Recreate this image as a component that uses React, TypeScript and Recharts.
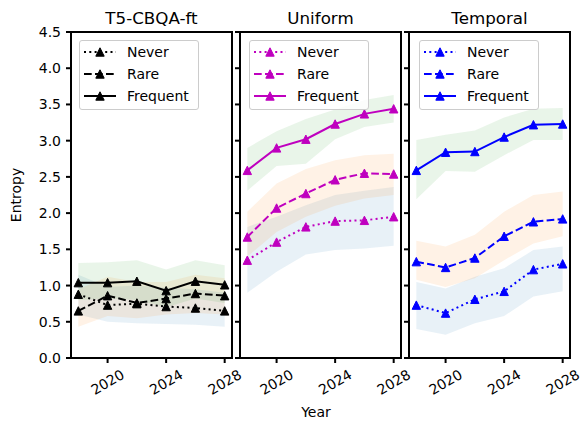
import React from 'react';
import { ComposedChart, Line, Area, XAxis, YAxis, ReferenceArea } from 'recharts';

// ---------- data ----------
const years = [2018, 2020, 2022, 2024, 2026, 2028];
const xTicks = [2020, 2024, 2028];
const yTicks = [0, 0.5, 1, 1.5, 2, 2.5, 3, 3.5, 4, 4.5];
const seriesNames = ['Never', 'Rare', 'Frequent'];
const panelTitles = ['T5-CBQA-ft', 'Uniform', 'Temporal'];
const panelColors = ['#000000', '#bf00bf', '#0000ff'];

// T5-CBQA-ft
const t5Never = [0.88, 0.73, 0.75, 0.71, 0.69, 0.65];
const t5Rare = [0.65, 0.86, 0.76, 0.82, 0.89, 0.86];
const t5Frequent = [1.04, 1.04, 1.06, 0.93, 1.06, 1.01];
const t5NeverLo = [0.6, 0.5, 0.48, 0.47, 0.46, 0.43];
const t5NeverHi = [1.15, 0.98, 1.0, 0.97, 0.95, 0.9];
const t5RareLo = [0.43, 0.58, 0.55, 0.6, 0.62, 0.6];
const t5RareHi = [0.95, 1.12, 1.05, 1.05, 1.15, 1.1];
const t5FrequentLo = [0.8, 0.82, 0.8, 0.7, 0.82, 0.76];
const t5FrequentHi = [1.31, 1.32, 1.35, 1.22, 1.35, 1.28];

// Uniform
const uniNever = [1.35, 1.6, 1.81, 1.89, 1.9, 1.95];
const uniRare = [1.67, 2.07, 2.27, 2.46, 2.55, 2.54];
const uniFrequent = [2.59, 2.9, 3.02, 3.23, 3.37, 3.44];
const uniNeverLo = [0.9, 1.19, 1.43, 1.49, 1.51, 1.55];
const uniNeverHi = [1.81, 1.95, 2.11, 2.25, 2.31, 2.36];
const uniRareLo = [1.4, 1.74, 1.95, 2.1, 2.2, 2.25];
const uniRareHi = [2.02, 2.41, 2.61, 2.73, 2.8, 2.82];
const uniFrequentLo = [2.31, 2.65, 2.68, 3.02, 3.19, 3.25];
const uniFrequentHi = [2.9, 3.13, 3.3, 3.43, 3.56, 3.63];

// Temporal
const tmpNever = [0.73, 0.62, 0.81, 0.92, 1.22, 1.3];
const tmpRare = [1.33, 1.25, 1.38, 1.68, 1.88, 1.92];
const tmpFrequent = [2.59, 2.84, 2.85, 3.05, 3.22, 3.23];
const tmpNeverLo = [0.4, 0.32, 0.48, 0.58, 0.85, 0.92];
const tmpNeverHi = [1.05, 0.96, 1.12, 1.24, 1.49, 1.54];
const tmpRareLo = [1.08, 0.98, 1.1, 1.35, 1.58, 1.68];
const tmpRareHi = [1.62, 1.54, 1.7, 2.02, 2.25, 2.3];
const tmpFrequentLo = [2.19, 2.58, 2.57, 2.8, 3.01, 3.01];
const tmpFrequentHi = [3.01, 3.08, 3.14, 3.32, 3.44, 3.45];

const buildRows = (
  never: number[], rare: number[], frequent: number[],
  nLo: number[], nHi: number[], rLo: number[], rHi: number[], fLo: number[], fHi: number[]
) =>
  years.map((year, i) => ({
    year,
    never: never[i],
    rare: rare[i],
    frequent: frequent[i],
    neverBand: [nLo[i], nHi[i]],
    rareBand: [rLo[i], rHi[i]],
    frequentBand: [fLo[i], fHi[i]],
  }));

const panelData = [
  buildRows(t5Never, t5Rare, t5Frequent, t5NeverLo, t5NeverHi, t5RareLo, t5RareHi, t5FrequentLo, t5FrequentHi),
  buildRows(uniNever, uniRare, uniFrequent, uniNeverLo, uniNeverHi, uniRareLo, uniRareHi, uniFrequentLo, uniFrequentHi),
  buildRows(tmpNever, tmpRare, tmpFrequent, tmpNeverLo, tmpNeverHi, tmpRareLo, tmpRareHi, tmpFrequentLo, tmpFrequentHi),
];

// ---------- styling ----------
const FONT = 'DejaVu Sans, Verdana, sans-serif';
const bandColors = ['#1f77b4', '#ff7f0e', '#2ca02c'];
const dashes = ['2 3.3', '7.7 3.3', undefined];
const keys = ['never', 'rare', 'frequent'];

const triPath = (cx: number, cy: number, s: number) =>
  `M${cx},${cy - s}L${cx + s},${cy + s}L${cx - s},${cy + s}Z`;

const makeDot = (color: string) => (props: any) => {
  const { cx, cy, index } = props;
  if (cx == null || cy == null) return <g key={`d${index}`} />;
  return <path key={`d${index}`} d={triPath(cx, cy, 4.2)} fill={color} stroke={color} strokeWidth={1} />;
};

const RotTick = (props: any) => {
  const { x, y, payload } = props;
  const cy = y + 17;
  return (
    <text
      x={x}
      y={cy}
      textAnchor="middle"
      dominantBaseline="central"
      transform={`rotate(-30, ${x}, ${cy})`}
      fontSize={14}
      fontFamily={FONT}
      fill="#000"
    >
      {payload.value}
    </text>
  );
};

const layouts = [
  { left: 0, width: 252, margin: { top: 32, right: 20, bottom: 23, left: 21 }, yWidth: 50, labels: true },
  { left: 230, width: 191, margin: { top: 32, right: 20, bottom: 23, left: 0 }, yWidth: 10, labels: false },
  { left: 399, width: 186, margin: { top: 32, right: 15, bottom: 23, left: 0 }, yWidth: 10, labels: false },
];
const legendLefts = [79, 249, 419];

function LegendBox({ left, color }: { left: number; color: string }) {
  return (
    <div
      style={{
        position: 'absolute',
        left,
        top: 40,
        width: 120,
        height: 70,
        border: '1px solid #cccccc',
        borderRadius: 3,
        background: 'rgba(255,255,255,0.8)',
        boxSizing: 'border-box',
      }}
    >
      <svg width={118} height={68} style={{ position: 'absolute', left: 0, top: 0 }}>
        {seriesNames.map((name, i) => {
          const cy = 11 + 22 * i;
          return (
            <g key={name}>
              <line x1={4} x2={36} y1={cy} y2={cy} stroke={color} strokeWidth={2} strokeDasharray={dashes[i]} />
              <path d={triPath(20, cy, 4.2)} fill={color} stroke={color} strokeWidth={1} />
              <text x={47} y={cy} dominantBaseline="central" fontSize={14} fontFamily={FONT} fill="#000">
                {name}
              </text>
            </g>
          );
        })}
      </svg>
    </div>
  );
}

function Panel({ idx }: { idx: number }) {
  const lay = layouts[idx];
  const color = panelColors[idx];
  return (
    <div style={{ position: 'absolute', left: lay.left, top: 0, width: lay.width, height: 421 }}>
      <ComposedChart width={lay.width} height={421} data={panelData[idx]} margin={lay.margin}>
        <XAxis
          dataKey="year"
          type="number"
          domain={[2017.5, 2028.5]}
          ticks={xTicks}
          allowDataOverflow
          height={40}
          axisLine={false}
          tickSize={5}
          tickMargin={2}
          tickLine={{ stroke: '#000', strokeWidth: 2 }}
          tick={<RotTick />}
        />
        <YAxis
          type="number"
          domain={[0, 4.5]}
          ticks={yTicks}
          allowDataOverflow
          width={lay.yWidth}
          axisLine={false}
          tickSize={5}
          tickMargin={5}
          tickLine={{ stroke: '#000', strokeWidth: 2 }}
          tick={{ fontSize: 14, fontFamily: FONT, fill: '#000' }}
          tickFormatter={(v: number) => (lay.labels ? v.toFixed(1) : '')}
        />
        {keys.map((k, i) => (
          <Area
            key={`${k}Band`}
            dataKey={`${k}Band`}
            type="linear"
            stroke="none"
            fill={bandColors[i]}
            fillOpacity={0.1}
            isAnimationActive={false}
            dot={false}
            activeDot={false}
          />
        ))}
        {keys.map((k, i) => (
          <Line
            key={k}
            dataKey={k}
            type="linear"
            stroke={color}
            strokeWidth={2}
            strokeDasharray={dashes[i]}
            dot={makeDot(color)}
            activeDot={false}
            isAnimationActive={false}
          />
        ))}
        <ReferenceArea
          x1={2017.5}
          x2={2028.5}
          y1={0}
          y2={4.5}
          fill="none"
          fillOpacity={0}
          stroke="#000"
          strokeWidth={2}
          ifOverflow="visible"
        />
      </ComposedChart>
    </div>
  );
}

export default function App() {
  return (
    <div style={{ position: 'absolute', left: 0, top: 0, width: 585, height: 421, background: '#fff', fontFamily: FONT }}>
      {[0, 1, 2].map((i) => (
        <Panel key={i} idx={i} />
      ))}
      {[0, 1, 2].map((i) => (
        <LegendBox key={i} left={legendLefts[i]} color={panelColors[i]} />
      ))}
      <svg width={585} height={421} style={{ position: 'absolute', left: 0, top: 0, pointerEvents: 'none' }}>
        {panelTitles.map((t, i) => (
          <text key={t} x={[151.5, 320.5, 489.5][i]} y={24} textAnchor="middle" fontSize={16.7} fontFamily={FONT} fill="#000">
            {t}
          </text>
        ))}
        <text x={16} y={195} textAnchor="middle" dominantBaseline="central" transform="rotate(-90, 16, 195)" fontSize={14} fontFamily={FONT} fill="#000">
          Entropy
        </text>
        <text x={316} y={412} textAnchor="middle" dominantBaseline="central" fontSize={14} fontFamily={FONT} fill="#000">
          Year
        </text>
      </svg>
    </div>
  );
}
